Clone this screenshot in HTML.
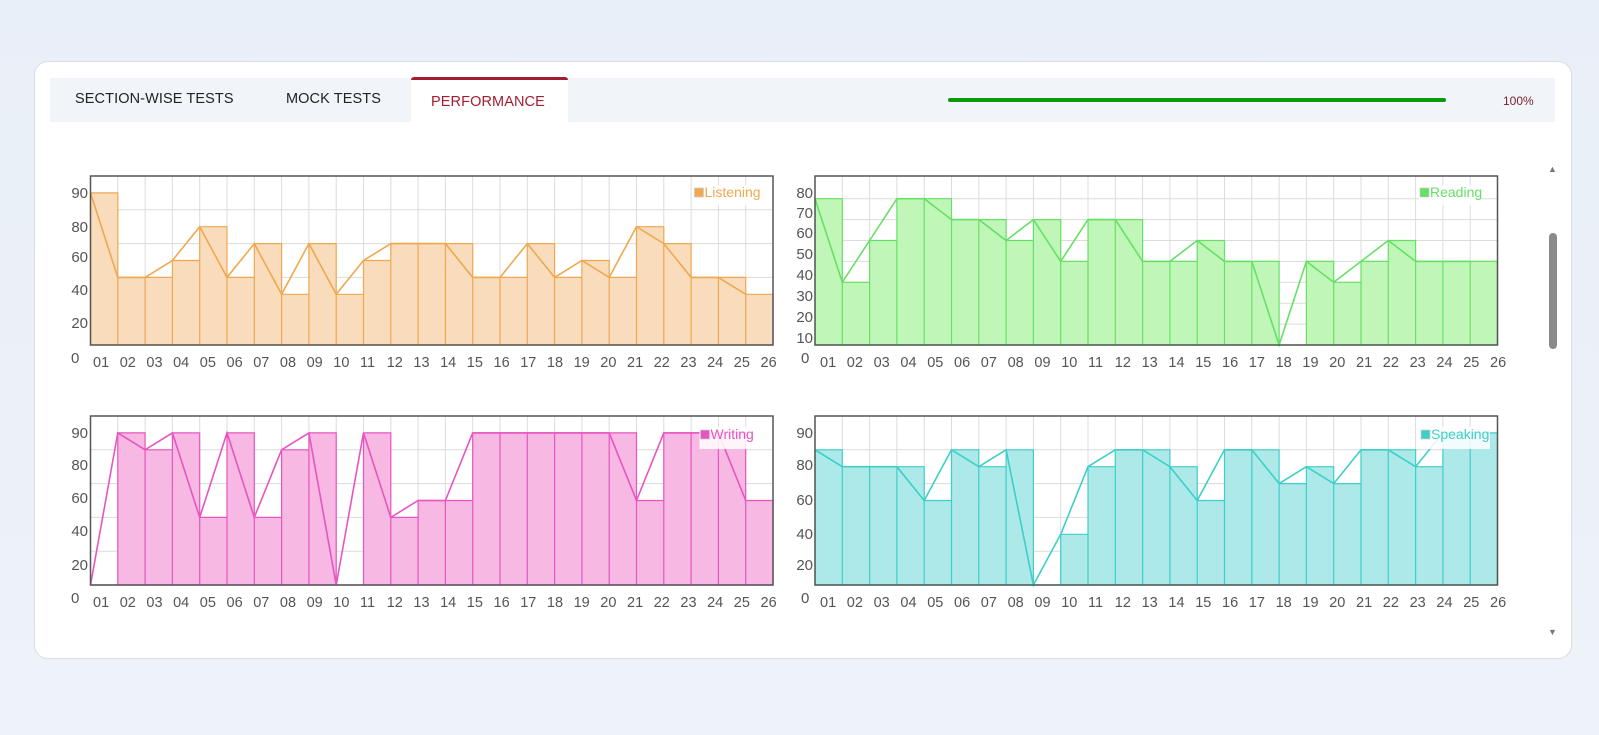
<!DOCTYPE html>
<html><head><meta charset="utf-8"><style>
html,body{margin:0;padding:0;width:1599px;height:735px;overflow:hidden;background:linear-gradient(180deg,#e9eff8,#eef2f9);font-family:"Liberation Sans",sans-serif}
.card{position:absolute;left:34px;top:61px;width:1536px;height:596px;background:#fff;border:1px solid #d8dde6;border-radius:14px}
.bar{position:absolute;left:50px;top:78px;width:1505px;height:44px;background:#f1f5fa}
.tab{position:absolute;top:91px;font-size:14.5px;color:#222;letter-spacing:0.1px}
.act{position:absolute;left:411px;top:77px;width:157px;height:46px;background:#fff;border-top:3px solid #a51c30;border-radius:3px 3px 0 0;box-sizing:border-box}
</style></head><body>
<div class="card"></div>
<div class="bar"></div>
<div class="act"></div>
<div class="tab" style="left:75px">SECTION-WISE TESTS</div>
<div class="tab" style="left:286px">MOCK TESTS</div>
<div class="tab" style="left:431px;top:94px;color:#a51c30">PERFORMANCE</div>
<div style="position:absolute;left:948px;top:98px;width:498px;height:4px;background:#0a9a0a;border-radius:2px"></div>
<div style="position:absolute;left:1503px;top:94px;font-size:12px;color:#7a2030">100%</div>
<div style="position:absolute;left:1549px;top:233px;width:8px;height:116px;background:#8a8a8a;border-radius:4px"></div>
<div style="position:absolute;left:1548px;top:164px;font-size:9px;color:#777">▲</div>
<div style="position:absolute;left:1548px;top:627px;font-size:9px;color:#777">▼</div>
<svg width="1599" height="735" style="position:absolute;left:0;top:0" font-family="Liberation Sans, sans-serif">
<defs>
<g id="vg" stroke="#dcdcdc" stroke-width="1">
<path d="M27.3 0V169M54.6 0V169M81.9 0V169M109.2 0V169M136.5 0V169M163.8 0V169M191.1 0V169M218.4 0V169M245.7 0V169M273 0V169M300.3 0V169M327.6 0V169M354.9 0V169M382.2 0V169M409.5 0V169M436.8 0V169M464.1 0V169M491.4 0V169M518.7 0V169M546 0V169M573.3 0V169M600.6 0V169M627.9 0V169M655.2 0V169"/>
</g>
<path id="hg1" d="M0 33.8H682.5M0 67.6H682.5M0 101.4H682.5M0 135.2H682.5" stroke="#dcdcdc"/>
<path id="hg2" d="M0 148.1H682.5M0 127.2H682.5M0 106.3H682.5M0 85.4H682.5M0 64.5H682.5M0 43.6H682.5M0 22.7H682.5" stroke="#dcdcdc"/>
</defs>

<!-- Listening -->
<g transform="translate(90.5,176)">
<use href="#vg"/><use href="#hg1"/>
<path fill="#f8dcbc" stroke="#f0a850" stroke-width="1.2" d="M0 169V16.9H27.3V169ZM27.3 169V101.4H54.6V169ZM54.6 169V101.4H81.9V169ZM81.9 169V84.5H109.2V169ZM109.2 169V50.7H136.5V169ZM136.5 169V101.4H163.8V169ZM163.8 169V67.6H191.1V169ZM191.1 169V118.3H218.4V169ZM218.4 169V67.6H245.7V169ZM245.7 169V118.3H273V169ZM273 169V84.5H300.3V169ZM300.3 169V67.6H327.6V169ZM327.6 169V67.6H354.9V169ZM354.9 169V67.6H382.2V169ZM382.2 169V101.4H409.5V169ZM409.5 169V101.4H436.8V169ZM436.8 169V67.6H464.1V169ZM464.1 169V101.4H491.4V169ZM491.4 169V84.5H518.7V169ZM518.7 169V101.4H546V169ZM546 169V50.7H573.3V169ZM573.3 169V67.6H600.6V169ZM600.6 169V101.4H627.9V169ZM627.9 169V101.4H655.2V169ZM655.2 169V118.3H682.5V169Z"/>
<polyline fill="none" stroke="#f0a850" stroke-width="1.6" points="0,16.9 27.3,101.4 54.6,101.4 81.9,84.5 109.2,50.7 136.5,101.4 163.8,67.6 191.1,118.3 218.4,67.6 245.7,118.3 273,84.5 300.3,67.6 327.6,67.6 354.9,67.6 382.2,101.4 409.5,101.4 436.8,67.6 464.1,101.4 491.4,84.5 518.7,101.4 546,50.7 573.3,67.6 600.6,101.4 627.9,101.4 655.2,118.3"/>
<rect x="0" y="0" width="682.5" height="169" fill="none" stroke="#555" stroke-width="1.5"/>
<rect x="603" y="9" width="66" height="20" fill="#fff" opacity="0.85"/>
<rect x="604" y="12" width="9" height="9" fill="#f0a850" stroke="#ccc" stroke-width="0.7"/>
<text x="614" y="21" font-size="14" fill="#f0a850">Listening</text>
</g>

<!-- Reading -->
<g transform="translate(815,176)">
<use href="#vg"/><use href="#hg2"/>
<path fill="#c0f7b8" stroke="#66e066" stroke-width="1.2" d="M0 169V22.7H27.3V169ZM27.3 169V106.3H54.6V169ZM54.6 169V64.5H81.9V169ZM81.9 169V22.7H109.2V169ZM109.2 169V22.7H136.5V169ZM136.5 169V43.6H163.8V169ZM163.8 169V43.6H191.1V169ZM191.1 169V64.5H218.4V169ZM218.4 169V43.6H245.7V169ZM245.7 169V85.4H273V169ZM273 169V43.6H300.3V169ZM300.3 169V43.6H327.6V169ZM327.6 169V85.4H354.9V169ZM354.9 169V85.4H382.2V169ZM382.2 169V64.5H409.5V169ZM409.5 169V85.4H436.8V169ZM436.8 169V85.4H464.1V169ZM464.1 169V169H491.4V169ZM491.4 169V85.4H518.7V169ZM518.7 169V106.3H546V169ZM546 169V85.4H573.3V169ZM573.3 169V64.5H600.6V169ZM600.6 169V85.4H627.9V169ZM627.9 169V85.4H655.2V169ZM655.2 169V85.4H682.5V169Z"/>
<polyline fill="none" stroke="#66e066" stroke-width="1.6" points="0,22.7 27.3,106.3 54.6,64.5 81.9,22.7 109.2,22.7 136.5,43.6 163.8,43.6 191.1,64.5 218.4,43.6 245.7,85.4 273,43.6 300.3,43.6 327.6,85.4 354.9,85.4 382.2,64.5 409.5,85.4 436.8,85.4 464.1,169 491.4,85.4 518.7,106.3 546,85.4 573.3,64.5 600.6,85.4 627.9,85.4 655.2,85.4"/>
<rect x="0" y="0" width="682.5" height="169" fill="none" stroke="#555" stroke-width="1.5"/>
<rect x="604" y="9" width="62" height="20" fill="#fff" opacity="0.85"/>
<rect x="605" y="12" width="9" height="9" fill="#66e066" stroke="#ccc" stroke-width="0.7"/>
<text x="615" y="21" font-size="14" fill="#66e066">Reading</text>
</g>

<!-- Writing -->
<g transform="translate(90.5,416)">
<use href="#vg"/><use href="#hg1"/>
<path fill="#f7b8e3" stroke="#e855c0" stroke-width="1.2" d="M0 169V169H27.3V169ZM27.3 169V16.9H54.6V169ZM54.6 169V33.8H81.9V169ZM81.9 169V16.9H109.2V169ZM109.2 169V101.4H136.5V169ZM136.5 169V16.9H163.8V169ZM163.8 169V101.4H191.1V169ZM191.1 169V33.8H218.4V169ZM218.4 169V16.9H245.7V169ZM245.7 169V169H273V169ZM273 169V16.9H300.3V169ZM300.3 169V101.4H327.6V169ZM327.6 169V84.5H354.9V169ZM354.9 169V84.5H382.2V169ZM382.2 169V16.9H409.5V169ZM409.5 169V16.9H436.8V169ZM436.8 169V16.9H464.1V169ZM464.1 169V16.9H491.4V169ZM491.4 169V16.9H518.7V169ZM518.7 169V16.9H546V169ZM546 169V84.5H573.3V169ZM573.3 169V16.9H600.6V169ZM600.6 169V16.9H627.9V169ZM627.9 169V16.9H655.2V169ZM655.2 169V84.5H682.5V169Z"/>
<polyline fill="none" stroke="#e855c0" stroke-width="1.6" points="0,169 27.3,16.9 54.6,33.8 81.9,16.9 109.2,101.4 136.5,16.9 163.8,101.4 191.1,33.8 218.4,16.9 245.7,169 273,16.9 300.3,101.4 327.6,84.5 354.9,84.5 382.2,16.9 409.5,16.9 436.8,16.9 464.1,16.9 491.4,16.9 518.7,16.9 546,84.5 573.3,16.9 600.6,16.9 627.9,16.9 655.2,84.5"/>
<rect x="0" y="0" width="682.5" height="169" fill="none" stroke="#555" stroke-width="1.5"/>
<rect x="609" y="11" width="63" height="22" fill="#fff" opacity="0.85"/>
<rect x="610" y="14" width="9" height="9" fill="#e855c0" stroke="#ccc" stroke-width="0.7"/>
<text x="620" y="23" font-size="14" fill="#e855c0">Writing</text>
</g>

<!-- Speaking -->
<g transform="translate(815,416)">
<use href="#vg"/><use href="#hg1"/>
<path fill="#ade9e8" stroke="#3dcfc8" stroke-width="1.2" d="M0 169V33.8H27.3V169ZM27.3 169V50.7H54.6V169ZM54.6 169V50.7H81.9V169ZM81.9 169V50.7H109.2V169ZM109.2 169V84.5H136.5V169ZM136.5 169V33.8H163.8V169ZM163.8 169V50.7H191.1V169ZM191.1 169V33.8H218.4V169ZM218.4 169V169H245.7V169ZM245.7 169V118.3H273V169ZM273 169V50.7H300.3V169ZM300.3 169V33.8H327.6V169ZM327.6 169V33.8H354.9V169ZM354.9 169V50.7H382.2V169ZM382.2 169V84.5H409.5V169ZM409.5 169V33.8H436.8V169ZM436.8 169V33.8H464.1V169ZM464.1 169V67.6H491.4V169ZM491.4 169V50.7H518.7V169ZM518.7 169V67.6H546V169ZM546 169V33.8H573.3V169ZM573.3 169V33.8H600.6V169ZM600.6 169V50.7H627.9V169ZM627.9 169V16.9H655.2V169ZM655.2 169V16.9H682.5V169Z"/>
<polyline fill="none" stroke="#3dcfc8" stroke-width="1.6" points="0,33.8 27.3,50.7 54.6,50.7 81.9,50.7 109.2,84.5 136.5,33.8 163.8,50.7 191.1,33.8 218.4,169 245.7,118.3 273,50.7 300.3,33.8 327.6,33.8 354.9,50.7 382.2,84.5 409.5,33.8 436.8,33.8 464.1,67.6 491.4,50.7 518.7,67.6 546,33.8 573.3,33.8 600.6,50.7 627.9,16.9 655.2,16.9"/>
<rect x="0" y="0" width="682.5" height="169" fill="none" stroke="#555" stroke-width="1.5"/>
<rect x="605" y="11" width="70" height="22" fill="#fff" opacity="0.85"/>
<rect x="606" y="14" width="9" height="9" fill="#3dcfc8" stroke="#ccc" stroke-width="0.7"/>
<text x="616" y="23" font-size="14" fill="#3dcfc8">Speaking</text>
</g>

<g font-size="15" fill="#555" text-anchor="end">
<text x="88" y="198">90</text><text x="88" y="232">80</text><text x="88" y="262">60</text><text x="88" y="295">40</text><text x="88" y="328">20</text>
<text x="813" y="198">80</text><text x="813" y="218">70</text><text x="813" y="238">60</text><text x="813" y="259">50</text><text x="813" y="280">40</text><text x="813" y="301">30</text><text x="813" y="322">20</text><text x="813" y="343">10</text>
<text x="88" y="438">90</text><text x="88" y="470">80</text><text x="88" y="503">60</text><text x="88" y="536">40</text><text x="88" y="570">20</text>
<text x="813" y="438">90</text><text x="813" y="470">80</text><text x="813" y="505">60</text><text x="813" y="539">40</text><text x="813" y="570">20</text>
</g>
<g font-size="15" fill="#555">
<text x="71" y="363">0</text><text x="801" y="363">0</text><text x="71" y="603">0</text><text x="801" y="603">0</text>
</g>
<g font-size="14.5" fill="#555">
<text y="367"><tspan x="93">01</tspan><tspan x="119.7">02</tspan><tspan x="146.4">03</tspan><tspan x="173.1">04</tspan><tspan x="199.8">05</tspan><tspan x="226.5">06</tspan><tspan x="253.2">07</tspan><tspan x="279.9">08</tspan><tspan x="306.6">09</tspan><tspan x="333.3">10</tspan><tspan x="360">11</tspan><tspan x="386.7">12</tspan><tspan x="413.4">13</tspan><tspan x="440.1">14</tspan><tspan x="466.8">15</tspan><tspan x="493.5">16</tspan><tspan x="520.2">17</tspan><tspan x="546.9">18</tspan><tspan x="573.6">19</tspan><tspan x="600.3">20</tspan><tspan x="627">21</tspan><tspan x="653.7">22</tspan><tspan x="680.4">23</tspan><tspan x="707.1">24</tspan><tspan x="733.8">25</tspan><tspan x="760.5">26</tspan></text>
<text y="367"><tspan x="820">01</tspan><tspan x="846.8">02</tspan><tspan x="873.6">03</tspan><tspan x="900.4">04</tspan><tspan x="927.2">05</tspan><tspan x="954">06</tspan><tspan x="980.8">07</tspan><tspan x="1007.6">08</tspan><tspan x="1034.4">09</tspan><tspan x="1061.2">10</tspan><tspan x="1088">11</tspan><tspan x="1114.8">12</tspan><tspan x="1141.6">13</tspan><tspan x="1168.4">14</tspan><tspan x="1195.2">15</tspan><tspan x="1222">16</tspan><tspan x="1248.8">17</tspan><tspan x="1275.6">18</tspan><tspan x="1302.4">19</tspan><tspan x="1329.2">20</tspan><tspan x="1356">21</tspan><tspan x="1382.8">22</tspan><tspan x="1409.6">23</tspan><tspan x="1436.4">24</tspan><tspan x="1463.2">25</tspan><tspan x="1490">26</tspan></text>
<text y="607"><tspan x="93">01</tspan><tspan x="119.7">02</tspan><tspan x="146.4">03</tspan><tspan x="173.1">04</tspan><tspan x="199.8">05</tspan><tspan x="226.5">06</tspan><tspan x="253.2">07</tspan><tspan x="279.9">08</tspan><tspan x="306.6">09</tspan><tspan x="333.3">10</tspan><tspan x="360">11</tspan><tspan x="386.7">12</tspan><tspan x="413.4">13</tspan><tspan x="440.1">14</tspan><tspan x="466.8">15</tspan><tspan x="493.5">16</tspan><tspan x="520.2">17</tspan><tspan x="546.9">18</tspan><tspan x="573.6">19</tspan><tspan x="600.3">20</tspan><tspan x="627">21</tspan><tspan x="653.7">22</tspan><tspan x="680.4">23</tspan><tspan x="707.1">24</tspan><tspan x="733.8">25</tspan><tspan x="760.5">26</tspan></text>
<text y="607"><tspan x="820">01</tspan><tspan x="846.8">02</tspan><tspan x="873.6">03</tspan><tspan x="900.4">04</tspan><tspan x="927.2">05</tspan><tspan x="954">06</tspan><tspan x="980.8">07</tspan><tspan x="1007.6">08</tspan><tspan x="1034.4">09</tspan><tspan x="1061.2">10</tspan><tspan x="1088">11</tspan><tspan x="1114.8">12</tspan><tspan x="1141.6">13</tspan><tspan x="1168.4">14</tspan><tspan x="1195.2">15</tspan><tspan x="1222">16</tspan><tspan x="1248.8">17</tspan><tspan x="1275.6">18</tspan><tspan x="1302.4">19</tspan><tspan x="1329.2">20</tspan><tspan x="1356">21</tspan><tspan x="1382.8">22</tspan><tspan x="1409.6">23</tspan><tspan x="1436.4">24</tspan><tspan x="1463.2">25</tspan><tspan x="1490">26</tspan></text>
</g>
</svg>
</body></html>
